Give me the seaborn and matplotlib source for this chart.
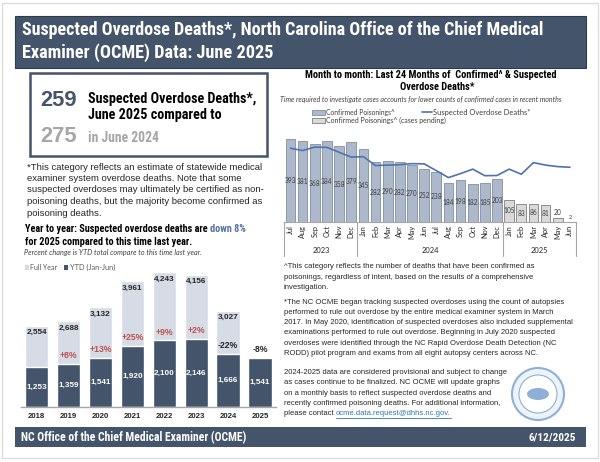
import os
import numpy as np
import pandas as pd
import matplotlib
matplotlib.use("Agg")
import matplotlib.pyplot as plt
from matplotlib import font_manager
from matplotlib.font_manager import FontProperties
from matplotlib.patches import Rectangle, Ellipse
import seaborn as sns

# ---------------- data ----------------
years = ['2018', '2019', '2020', '2021', '2022', '2023', '2024', '2025']
full_year_years = ['2018', '2019', '2020', '2021', '2022', '2023', '2024']
full_year = [2554, 2688, 3132, 3961, 4243, 4156, 3027]
ytd = [1253, 1359, 1541, 1920, 2100, 2146, 1666, 1541]
pct_change = ['', '+8%', '+13%', '+25%', '+9%', '+2%', '-22%', '-8%']

months = ['Jul', 'Aug', 'Sep', 'Oct', 'Nov', 'Dec',
          'Jan', 'Feb', 'Mar', 'Apr', 'May', 'Jun', 'Jul', 'Aug', 'Sep', 'Oct', 'Nov', 'Dec',
          'Jan', 'Feb', 'Mar', 'Apr', 'May', 'Jun']
month_year = ['2023'] * 6 + ['2024'] * 12 + ['2025'] * 6
confirmed = [393, 381, 368, 384, 358, 379, 345, 282, 290, 282, 270, 252,
             238, 184, 198, 182, 185, 203, 105, 83, 86, 81, 20, 2]
pending = [False] * 18 + [True] * 6
suspected = [349, 338, 354, 353, 330, 307, 309, 267, 269, 271, 276, 275,
             243, 210, 229, 250, 219, 220, 250, 226, 281, 269, 262, 259]

# ---------------- style / fonts ----------------
sns.set_style("white")
SANS = 'Liberation Sans'
plt.rcParams['font.family'] = [SANS, 'DejaVu Sans']

def find_condensed_bold():
    files = [f.fname for f in font_manager.fontManager.ttflist]
    prefs = ['liberationsansnarrow-bold.', 'robotocondensed-bold.', 'dejavusanscondensed-bold.',
             'opensanscondensed-bold.', 'opensans_condensed-bold.', 'notosans-condensedbold.',
             'notosanscondensed-bold.', 'lato-bold.']
    for p in prefs:
        for fn in files:
            if os.path.basename(fn).lower().replace(' ', '').startswith(p):
                return fn
    for fn in files:
        b = os.path.basename(fn).lower()
        if ('condensed' in b or 'narrow' in b) and 'bold' in b and 'italic' not in b \
                and 'oblique' not in b and 'semi' not in b and 'extra' not in b:
            return fn
    return None

NARROW_PATH = find_condensed_bold()

def fp_narrow():
    if NARROW_PATH:
        return FontProperties(fname=NARROW_PATH)
    return FontProperties(family='Roboto', weight='bold')

W, H = 600, 462
fig = plt.figure(figsize=(6, 4.62), dpi=100)
fig.patch.set_facecolor('white')
renderer = fig.canvas.get_renderer()

def P(x, y):
    return (x / W, 1 - y / H)

def axes_px(l, t, r, b):
    return fig.add_axes([l / W, 1 - b / H, (r - l) / W, (b - t) / H])

def ftext(x, y, s, size=8, width=None, fp=None, **kw):
    """Figure text at pixel coords; optionally scale font so the text is `width` px wide."""
    if fp is None:
        fp = FontProperties(family=kw.pop('family', SANS), weight=kw.pop('weight', 'normal'),
                            style=kw.pop('style', 'normal'))
    fp = fp.copy()
    fp.set_size(size)
    t = fig.text(x / W, 1 - y / H, s, fontproperties=fp, **kw)
    if width:
        w = t.get_window_extent(renderer).width
        t.set_fontsize(size * width / w)
    return t

def text_width(t):
    return t.get_window_extent(renderer).width

def rect(x0, y0, x1, y1, **kw):
    fig.patches.append(Rectangle(P(x0, y1), (x1 - x0) / W, (y1 - y0) / H,
                                 transform=fig.transFigure, **kw))

NAVY = '#44546a'
LIGHT = '#d6dce5'

# page frame
rect(2, 3, 598, 458, facecolor='none', edgecolor='#dcdcdc', lw=1)

# ---------------- banners ----------------
rect(15, 16, 586, 68, facecolor=NAVY, edgecolor='#2f3b4c', lw=0.8)
ftext(22, 30, 'Suspected Overdose Deaths*, North Carolina Office of the Chief Medical',
      size=13, width=521, fp=fp_narrow(), color='white', va='center')
ftext(22, 53, 'Examiner (OCME) Data: June 2025',
      size=13, width=250, fp=fp_narrow(), color='white', va='center')

rect(15, 427, 586, 447, facecolor=NAVY, edgecolor='none')
ftext(21, 437.5, 'NC Office of the Chief Medical Examiner (OCME)', size=8.5, width=224,
      fp=fp_narrow(), color='white', va='center')
ftext(576, 437.5, '6/12/2025', size=8.5, width=47, fp=fp_narrow(), color='white',
      va='center', ha='right')

# ---------------- headline box ----------------
rect(29.5, 73, 267, 155.5, facecolor='white', edgecolor=NAVY, lw=1.8)
ftext(40.7, 101, '259', size=16, width=36.6, weight='bold', color=NAVY, va='center')
ftext(40.7, 136, '275', size=16, width=36.6, weight='bold', color='#a6a6a6', va='center')
ftext(88, 98.5, 'Suspected Overdose Deaths*,', size=11, width=169, fp=fp_narrow(),
      color='black', va='center')
ftext(88, 114.5, 'June 2025 compared to', size=11, width=133, fp=fp_narrow(),
      color='black', va='center')
ftext(88, 138.5, 'in June 2024', size=11, width=71.5, fp=fp_narrow(),
      color='#a6a6a6', va='center')

para1 = ["*This category reflects an estimate of statewide medical",
         "examiner system overdose deaths. Note that some",
         "suspected overdoses may ultimately be certified as non-",
         "poisoning deaths, but the majority become confirmed as",
         "poisoning deaths."]
t0 = ftext(27, 167, para1[0], size=6.6, width=235.5, color='#262626', va='center')
p1size = t0.get_fontsize()
for k, line in enumerate(para1[1:], start=1):
    ftext(27, 167 + k * 11.5, line, size=p1size, color='#262626', va='center')

yy_a = 'Year to year: Suspected overdose deaths are '
yy_b = 'down 8%'
tmp = ftext(25, 229, yy_a + yy_b, size=9, fp=fp_narrow(), color='none', va='center')
yy_size = 9 * 221 / text_width(tmp)
tmp.remove()
ta = ftext(25, 229, yy_a, size=yy_size, fp=fp_narrow(), color='black', va='center')
ftext(25 + text_width(ta), 229, yy_b, size=yy_size, fp=fp_narrow(), color='#5472a4',
      va='center')
ftext(25, 242, 'for 2025 compared to this time last year.', size=yy_size, fp=fp_narrow(),
      color='black', va='center')
ftext(23.5, 253, 'Percent change is YTD total compare to this time last year.', size=5.3,
      width=176, family='Lato', style='italic', color='#404040', va='center')

# left legend
rect(24.5, 265, 29, 269.5, facecolor='#dcdcdc', edgecolor='none')
ftext(30.5, 267.5, 'Full Year', size=5.6, width=27, family='Lato', color='#595959', va='center')
rect(63.5, 265, 68, 269.5, facecolor=NAVY, edgecolor='none')
ftext(69.5, 267.5, 'YTD (Jan-Jun)', size=5.6, width=45, family='Lato', color='#595959',
      va='center')

# ---------------- yearly bar chart ----------------
ax1 = axes_px(20.7, 267, 276, 407)
df_full = pd.DataFrame({'year': full_year_years, 'deaths': full_year})
df_ytd = pd.DataFrame({'year': years, 'deaths': ytd})
sns.barplot(data=df_full, x='year', y='deaths', order=years, color=LIGHT,
            saturation=1, width=0.73, ax=ax1, errorbar=None)
sns.barplot(data=df_ytd, x='year', y='deaths', order=years, color=NAVY,
            saturation=1, width=0.73, ax=ax1, errorbar=None)
ax1.set_xlim(-0.5, 7.5)
ax1.set_ylim(0, 4400)
ax1.set_xlabel('')
ax1.set_ylabel('')
ax1.set_yticks([])
for s in ['top', 'right', 'left']:
    ax1.spines[s].set_visible(False)
ax1.spines['bottom'].set_color('#a6a6a6')
ax1.spines['bottom'].set_linewidth(1)
ax1.tick_params(axis='x', length=0, pad=4.5, labelsize=5.6)
for lab in ax1.get_xticklabels():
    lab.set_fontweight('bold')
    lab.set_color('#262626')
LBL = dict(fontsize=5.9, weight='bold', family=SANS)
for i, v in enumerate(full_year):
    ax1.annotate(f'{v:,}', xy=(i, v), xytext=(0, -7), textcoords='offset pixels',
                 ha='center', va='center', color='#262626', **LBL)
for i, v in enumerate(ytd):
    ax1.annotate(f'{v:,}', xy=(i, v / 2), ha='center', va='center', color='white', **LBL)
    if pct_change[i]:
        col = '#c0504d' if pct_change[i].startswith('+') else '#262626'
        ax1.annotate(pct_change[i], xy=(i, v), xytext=(0, 8), textcoords='offset pixels',
                     ha='center', va='center', color=col, fontsize=6.2, weight='bold',
                     family=SANS)

# ---------------- monthly chart ----------------
tt = ftext(431, 75, 'Month to month: Last 24 Months of  Confirmed^ & Suspected', size=8.6,
           width=252, fp=fp_narrow(), color='black', va='center', ha='center')
ftext(437, 87.5, 'Overdose Deaths*', size=tt.get_fontsize(), fp=fp_narrow(), color='black',
      va='center', ha='center')
ftext(421, 99.5, 'Time required to investigate cases accounts for lower counts of confirmed cases in recent months',
      size=5.3, width=283, family='Lato', style='italic', color='#404040', va='center',
      ha='center')

CONF = '#adb9ca'
CONF_E = '#7f8fa6'
PEND = '#dadada'
PEND_E = '#7f7f7f'
LINE = '#4f72ad'

# legend
rect(312, 110, 325, 114.5, facecolor=CONF, edgecolor=CONF_E, lw=0.6)
ftext(326, 112.3, 'Confirmed Poisonings^', size=5.6, width=69, family='Lato',
      color='#404040', va='center')
fig.lines.append(plt.Line2D([422 / W, 432 / W], [1 - 112.3 / H, 1 - 112.3 / H],
                            transform=fig.transFigure, color=LINE, lw=1.2))
ftext(433, 112.3, 'Suspected Overdose Deaths*', size=5.6, width=97, family='Lato',
      color='#404040', va='center')
rect(312, 118, 325, 122.5, facecolor=PEND, edgecolor=PEND_E, lw=0.6)
ftext(326, 120.3, 'Confirmed Poisonings^ (cases pending)', size=5.6, width=120,
      family='Lato', color='#404040', va='center')

ax2 = axes_px(284.4, 133.2, 576, 222)
keys = [f'{m}-{y}-{i}' for i, (m, y) in enumerate(zip(months, month_year))]
df_m = pd.DataFrame({'key': keys, 'confirmed': confirmed, 'pending': pending,
                     'suspected': suspected, 'pos': range(len(keys))})
sns.barplot(data=df_m[~df_m.pending], x='key', y='confirmed', order=keys, color=CONF,
            saturation=1, width=0.8, ax=ax2, errorbar=None, edgecolor=CONF_E, linewidth=0.6)
sns.barplot(data=df_m[df_m.pending], x='key', y='confirmed', order=keys, color=PEND,
            saturation=1, width=0.8, ax=ax2, errorbar=None, edgecolor=PEND_E, linewidth=0.6)
sns.lineplot(data=df_m, x='pos', y='suspected', color=LINE, lw=1.2, ax=ax2)
ax2.set_xlim(-0.5, 23.5)
ax2.set_ylim(0, 420)
ax2.set_xlabel('')
ax2.set_ylabel('')
ax2.set_yticks([])
ax2.set_xticks(range(24))
ax2.set_xticklabels(months, rotation=90, fontsize=5.3, color='#262626', family='Lato')
ax2.tick_params(axis='x', length=0, pad=2)
for s in ['top', 'right', 'left']:
    ax2.spines[s].set_visible(False)
ax2.spines['bottom'].set_color('#a6a6a6')
ax2.spines['bottom'].set_linewidth(0.8)
for i, v in enumerate(confirmed):
    if v >= 30:
        ax2.annotate(str(v), xy=(i, v / 2), ha='center', va='center', fontsize=4.8,
                     color='#404040', family='Lato')
    else:
        ax2.annotate(str(v), xy=(i, v), xytext=(0, 1.5), textcoords='offset pixels',
                     ha='center', va='bottom', fontsize=4.8 if v >= 10 else 4,
                     color='#404040', family='Lato')
xt = ax2.get_xaxis_transform()
for xs in [-0.5, 5.5, 17.5, 23.5]:
    ax2.plot([xs, xs], [0, -0.385], transform=xt, color='#a6a6a6', lw=0.8, clip_on=False)
for yr in ['2023', '2024', '2025']:
    idx = [i for i, y in enumerate(month_year) if y == yr]
    ax2.text(np.mean(idx), -0.323, yr, transform=xt, ha='center', va='center',
             fontsize=5.4, color='#262626', family='Lato')

# ---------------- right notes ----------------
notes1 = ["^This category reflects the number of deaths that have been confirmed as",
          "poisonings, regardless of intent, based on the results of a comprehensive",
          "investigation."]
notes2 = ["*The NC OCME began tracking suspected overdoses using the count of autopsies",
          "performed to rule out overdose by the entire medical examiner system in March",
          "2017. In May 2020, identification of suspected overdoses also included supplemental",
          "examinations performed to rule out overdose. Beginning in July 2020 suspected",
          "overdoses were identified through the NC Rapid Overdose Death Detection (NC",
          "RODD) pilot program and exams from all eight autopsy centers across NC."]
notes3 = ["2024-2025 data are considered provisional and subject to change",
          "as cases continue to be finalized. NC OCME will update graphs",
          "on a monthly basis to reflect suspected overdose deaths and",
          "recently confirmed poisoning deaths. For additional information,"]
tmp = ftext(285, 500, notes2[2], size=5.6, color='none')
NSZ = 5.6 * 285 / text_width(tmp)
tmp.remove()
NC = '#262626'
for k, line in enumerate(notes1):
    ftext(284, 266.5 + k * 10.6, line, size=NSZ, color=NC, va='center')
for k, line in enumerate(notes2):
    ftext(284, 302 + k * 10.3, line, size=NSZ, color=NC, va='center')
for k, line in enumerate(notes3):
    ftext(284, 372.5 + k * 10.3, line, size=NSZ, color=NC, va='center')
t2 = ftext(284, 413.7, 'please contact ', size=NSZ, color=NC, va='center')
x_link = 284 + text_width(t2)
tl = ftext(x_link, 413.7, 'ocme.data.request@dhhs.nc.gov.', size=NSZ, color='#2e75b6',
           va='center')
fig.lines.append(plt.Line2D([x_link / W, (x_link + text_width(tl)) / W],
                            [1 - 417.5 / H, 1 - 417.5 / H],
                            transform=fig.transFigure, color='#2e75b6', lw=0.6))

# seal (decorative)
cx, cy = P(538, 394)
for r, fc, ec, lw in [(26, '#eef3f9', '#8fb0d6', 1.5), (19, 'white', '#8fb0d6', 0.8)]:
    fig.patches.append(Ellipse((cx, cy), 2 * r / W, 2 * r / H, transform=fig.transFigure,
                               facecolor=fc, edgecolor=ec, lw=lw))
fig.patches.append(Ellipse((cx, cy), 22 / W, 12 / H, transform=fig.transFigure,
                           facecolor='#8fb0d6', edgecolor='none'))

fig.savefig('out.png', dpi=100, facecolor='white')
